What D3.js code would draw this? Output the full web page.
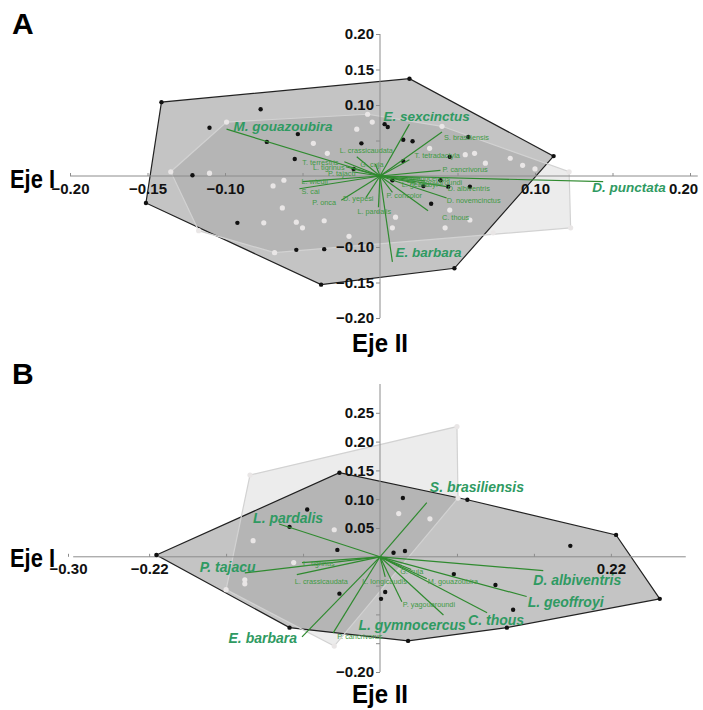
<!DOCTYPE html>
<html><head><meta charset="utf-8">
<script src="https://cdn.jsdelivr.net/npm/d3@7"></script>
<style>
body{margin:0;background:#fff}
text{font-family:"Liberation Sans",Arial,sans-serif}
</style></head><body>
<svg id="chart" width="703" height="710"></svg>
<script>
// ---- panel A data (Eje I, Eje II scores) ----
blackA = [[-0.141,0.104],[0.019,0.137],[0.112,0.028],[0.048,-0.130],[-0.038,-0.153],[-0.151,-0.038],
  [-0.110,0.068],[-0.077,0.094],[-0.053,0.059],[-0.073,0.048],[-0.055,0.024],[-0.121,0.001],
  [-0.092,-0.066],[-0.054,-0.104],[-0.036,-0.103],[-0.012,0.046],[-0.017,0.010],[0.003,0.073],
  [0.005,0.069],[0.015,0.051],[0.021,0.049],[0.015,0.021],[0.045,0.027],[0.057,0.055],
  [0.008,-0.006],[0.028,-0.014],[0.039,-0.006],[0.044,-0.015],[0.058,-0.015],[0.033,-0.039]];
whiteA = [[-0.099,0.076],[-0.008,0.087],[0.040,0.070],[0.122,0.006],[0.123,-0.073],[0.073,-0.080],
  [-0.068,-0.108],[-0.117,-0.077],[-0.135,0.006],[-0.110,0.004],[-0.069,-0.014],[-0.062,-0.006],
  [-0.063,-0.045],[-0.075,-0.066],[-0.054,-0.065],[-0.050,-0.073],[-0.036,-0.063],[-0.043,0.046],
  [-0.034,0.032],[-0.015,0.066],[-0.005,0.076],[0.032,0.039],[0.055,0.030],[0.061,0.032],
  [0.084,0.025],[0.092,0.015],[0.008,-0.073],[0.045,-0.048],[0.058,-0.062],[0.042,-0.073],
  [0.068,0.018],[0.100,0.010],[0.010,-0.058],[-0.020,-0.085]];
vectorsA = [["M. gouazoubira",-0.099,0.066],["E. sexcinctus",0.019,0.073],["D. punctata",0.144,-0.008],
  ["E. barbara",0.008,-0.121],["S. brasiliensis",0.040,0.062],["T. tetradactyla",0.019,0.023],
  ["P. cancrivorus",0.039,0.008],["D. albiventris",0.043,-0.015],["D. novemcinctus",0.043,-0.031],
  ["C. thous",0.031,-0.049],["P. concolor",0.008,-0.023],["L. pardalis",-0.001,-0.044],
  ["D. yepesi",-0.009,-0.030],["P. onca",-0.025,-0.034],["S. cai",-0.052,-0.018],
  ["L. wiedii",-0.050,-0.008],["P. tajacu",-0.018,0.006],["L. tigrinus",-0.022,0.013],
  ["T. terrestris",-0.023,0.020],["G. cuja",-0.003,0.017],["L. crassicaudata",-0.015,0.027],
  ["L. gymnocercus",0.026,-0.003],["L. geoffroyi",0.023,-0.010],["P. yagouaroundi",0.029,-0.007]];
bigA = ["M. gouazoubira","E. sexcinctus","D. punctata","E. barbara"];
xTicksA = [-0.20,-0.15,-0.10,-0.05,0.05,0.10,0.15,0.20];
xLabelsA = [-0.20,-0.15,-0.10,0.10,0.20];
yTicksA = [-0.20,-0.15,-0.10,-0.05,0.05,0.10,0.15,0.20];
yLabelsA = [0.20,0.15,0.10,-0.10,-0.15,-0.20];

// ---- panel B data ----
blackB = [[-0.215,0.003],[-0.039,0.146],[0.084,0.099],[0.227,0.038],[0.269,-0.073],[0.122,-0.123],
  [0.027,-0.146],[-0.087,-0.123],[-0.070,0.082],[-0.087,0.052],[-0.041,0.012],[-0.039,-0.064],
  [0.022,0.102],[0.013,0.007],[0.024,0.010],[0.183,0.019],[0.071,-0.030],[0.111,-0.049],
  [0.005,-0.061],[0.001,-0.073],[0.128,-0.092]];
whiteB = [[-0.125,0.142],[0.074,0.226],[0.075,0.102],[-0.044,-0.155],[-0.148,-0.057],
  [-0.122,0.028],[-0.083,-0.010],[-0.130,-0.040],[-0.130,-0.047],[-0.044,0.047],[0.018,0.075],[0.048,0.066]];
vectorsB = [["L. pardalis",-0.097,0.057],["P. tajacu",-0.130,-0.028],["S. brasiliensis",0.045,0.094],
  ["D. albiventris",0.157,-0.024],["L. geoffroyi",0.141,-0.069],["C. thous",0.103,-0.097],
  ["L. gymnocercus",0.061,-0.101],["E. barbara",-0.075,-0.139],["L. tigrinus",-0.075,-0.010],
  ["L. crassicaudata",-0.080,-0.031],["L. longicaudis",0.005,-0.035],["M. gouazoubira",0.045,-0.038],
  ["G. cuja",0.030,-0.022],["P. yagouaroundi",0.021,-0.078],["P. cancrivorus",-0.045,-0.132]];
bigB = ["L. pardalis","P. tajacu","S. brasiliensis","D. albiventris","L. geoffroyi","C. thous","L. gymnocercus","E. barbara"];
xTicksB = [-0.30,-0.222,-0.148,-0.074,0.074,0.148,0.222];
xLabelsB = [-0.30,-0.222,0.222];
yTicksB = [-0.20,-0.15,-0.10,-0.05,0.05,0.10,0.15,0.20,0.25];
yLabelsB = [0.25,0.20,0.15,0.10,0.05,-0.20];

// label offsets from the arrow tip (px): dx, dy, anchor
labelPosA = {"M. gouazoubira":[7,2],"E. sexcinctus":[-26,-3],"D. punctata":[-11,10],"E. barbara":[3,-5],
  "S. brasiliensis":[2,8],"T. tetradactyla":[5,-2],"P. cancrivorus":[2,2],"D. albiventris":[1,4],
  "D. novemcinctus":[0,5],"C. thous":[14,9],"P. concolor":[-6,6],"L. pardalis":[-21,7],"D. yepesi":[-23,4],
  "P. onca":[-29,5],"S. cai":[2,5],"L. wiedii":[-1,2],"P. tajacu":[-24,4],"L. tigrinus":[-33,3],
  "T. terrestris":[-42,3],"G. cuja":[-15,3],"L. crassicaudata":[-17,-4],"L. gymnocercus":[-22,3],
  "L. geoffroyi":[-14,4],"P. yagouaroundi":[-15,4]};
labelPosB = {"L. pardalis":[-26,-1],"P. tajacu":[-45,-1],"S. brasiliensis":[3,-11],"D. albiventris":[-10,14],
  "L. geoffroyi":[1,10],"C. thous":[-19,12],"L. gymnocercus":[-85,15],"E. barbara":[-5,6,"end"],
  "L. tigrinus":[1,3],"L. crassicaudata":[-2,9],"L. longicaudis":[-23,7],"M. gouazoubira":[1,5],
  "G. cuja":[-11,5],"P. yagouaroundi":[1,5],"P. cancrivorus":[4,6]};
// horizontal nudges of some tick labels (px)
tickNudge = {"-0.20":6, "0.20":-7, "-0.30":9};

var svg = d3.select("#chart");
var fmt = d3.format(".2f");

function drawPanel(p) {
  var g = svg.append("g");
  var x = d3.scaleLinear().domain(p.xDomain).range(p.xRange);
  var y = d3.scaleLinear().domain(p.yDomain).range(p.yRange);
  var line = function(pts) { return "M" + pts.map(function(d){ return x(d[0]) + "," + y(d[1]); }).join("L") + "Z"; };

  // hulls
  g.append("path").attr("d", line(d3.polygonHull(p.black)))
    .attr("fill", "#000").attr("fill-opacity", 0.23)
    .attr("stroke", "#222").attr("stroke-width", 1.2);
  g.append("path").attr("d", line(d3.polygonHull(p.white)))
    .attr("fill", "#000").attr("fill-opacity", 0.075)
    .attr("stroke", "#d2d2d2").attr("stroke-width", 1.2);

  // axes
  var xa = d3.axisBottom(x).tickValues(p.xTicks).tickSizeInner(-3).tickSizeOuter(0)
    .tickFormat(function(d){ return p.xLabels.indexOf(d) >= 0 ? fmt(d) : ""; });
  var ya = d3.axisLeft(y).tickValues(p.yTicks).tickSizeInner(4).tickSizeOuter(0).tickPadding(2)
    .tickFormat(function(d){ return p.yLabels.indexOf(d) >= 0 ? fmt(d) : ""; });
  var gx = g.append("g").attr("transform", "translate(0," + y(0) + ")").call(xa);
  var gy = g.append("g").attr("transform", "translate(" + x(0) + ",0)").call(ya);
  gx.select(".domain").attr("d", "M" + x(p.xExtent[0]) + ",0H" + x(p.xExtent[1]));
  gy.select(".domain").attr("d", "M0," + y(p.yExtent[1]) + "V" + y(p.yExtent[0]));
  [gx, gy].forEach(function(a) {
    a.selectAll(".domain, .tick line").attr("stroke", "#8c8c8c");
    a.selectAll("text").attr("font-family", "Liberation Sans, Arial, sans-serif")
      .attr("font-weight", "bold").attr("font-size", 15).attr("fill", "#111");
  });
  gx.selectAll("text").attr("y", 7)
    .attr("dx", function(d){ return tickNudge[fmt(d)] || 0; });

  // sites
  g.selectAll(".wp").data(p.white).enter().append("circle")
    .attr("cx", function(d){ return x(d[0]); }).attr("cy", function(d){ return y(d[1]); })
    .attr("r", 2.6).attr("fill", "#e9e6e6");
  g.selectAll(".bp").data(p.black).enter().append("circle")
    .attr("cx", function(d){ return x(d[0]); }).attr("cy", function(d){ return y(d[1]); })
    .attr("r", 2.2).attr("fill", "#111");

  // species vectors
  g.selectAll(".vec").data(p.vectors).enter().append("line")
    .attr("x1", x(0)).attr("y1", y(0))
    .attr("x2", function(d){ return x(d[1]); }).attr("y2", function(d){ return y(d[2]); })
    .attr("stroke", "#2f8a2f").attr("stroke-width", 1.2);
  g.selectAll(".lab").data(p.vectors).enter().append("text")
    .text(function(d){ return d[0]; })
    .each(function(d) {
      var o = p.pos[d[0]], big = p.big.indexOf(d[0]) >= 0;
      d3.select(this)
        .attr("x", x(d[1]) + o[0]).attr("y", y(d[2]) + o[1])
        .attr("text-anchor", o[2] || "start")
        .attr("font-size", big ? p.bigSize : 7.3)
        .attr("font-weight", big ? "bold" : "normal")
        .attr("font-style", big ? "italic" : "normal")
        .attr("fill", big ? "#2f9a62" : "#3f9a45");
    });

  // titles
  g.append("text").text(p.letter).attr("x", 12).attr("y", p.letterY)
    .attr("font-size", 30).attr("font-weight", "bold");
  g.append("text").text("Eje I").attr("x", 10).attr("y", p.ejeIY)
    .attr("font-size", 25).attr("font-weight", "bold")
    .attr("textLength", 45).attr("lengthAdjust", "spacingAndGlyphs");
  g.append("text").text("Eje II").attr("x", x(0) - 28).attr("y", p.ejeIIY)
    .attr("font-size", 25).attr("font-weight", "bold")
    .attr("textLength", 56).attr("lengthAdjust", "spacingAndGlyphs");
}

drawPanel({black: blackA, white: whiteA, vectors: vectorsA, big: bigA, pos: labelPosA, bigSize: 13.5,
  xDomain: [-0.2, 0.2], xRange: [70, 690], yDomain: [-0.2, 0.2], yRange: [318, 34],
  xExtent: [-0.2, 0.205], yExtent: [-0.2, 0.2],
  xTicks: xTicksA, xLabels: xLabelsA, yTicks: yTicksA, yLabels: yLabelsA,
  letter: "A", letterY: 34, ejeIY: 188, ejeIIY: 352});
drawPanel({black: blackB, white: whiteB, vectors: vectorsB, big: bigB, pos: labelPosB, bigSize: 14,
  xDomain: [-0.3, 0.3], xRange: [68, 692], yDomain: [-0.2, 0.3], yRange: [672, 384],
  xExtent: [-0.295, 0.294], yExtent: [-0.2, 0.3],
  xTicks: xTicksB, xLabels: xLabelsB, yTicks: yTicksB, yLabels: yLabelsB,
  letter: "B", letterY: 384, ejeIY: 567, ejeIIY: 703});
</script>
</body></html>
